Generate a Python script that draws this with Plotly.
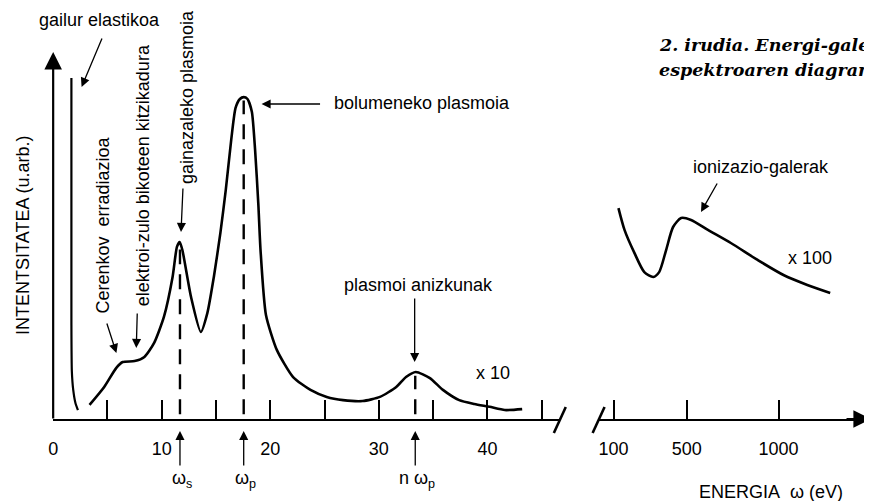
import plotly.graph_objects as go

# ---------------- data ----------------
# low-energy spectrum (x10), energy in eV, intensity in arbitrary units
main_energy = [3.35, 4.7, 5.8, 6.4, 7.5, 8.4, 9.3, 10.2, 11.0, 11.4, 11.65, 11.9, 12.7, 13.6,
               14.2, 14.8, 15.4, 15.9, 16.4, 16.8, 17.2, 17.55, 17.9, 18.3, 18.6, 18.9, 19.1,
               19.6, 20.6, 22.1, 23.7, 25.2, 26.7, 28.5, 30.1, 31.6, 32.5, 33.4, 34.7, 35.9,
               37.4, 38.8, 40.2, 41.6, 43.2]
main_intensity = [4.4, 10.0, 15.9, 17.8, 18.1, 19.4, 23.8, 31.9, 44.4, 53.8, 55.3, 52.8, 38.1, 27.2,
                  33.1, 44.4, 58.1, 71.6, 87.2, 97.2, 100.0, 100.6, 100.0, 96.0, 84.0, 67.0, 52.8,
                  32.5, 21.6, 13.1, 9.1, 6.9, 5.9, 5.6, 6.9, 10.0, 13.1, 14.7, 12.8, 9.1,
                  5.9, 4.7, 3.8, 2.8, 3.1]
# elastic peak
elastic_energy = [1.68, 1.68, 1.72, 1.85, 2.05, 2.28]
elastic_intensity = [106.6, 30.0, 15.0, 9.0, 5.0, 2.8]
# high-energy spectrum (x100): ionisation losses
ion_energy = [127, 160, 214, 268, 317, 349, 387, 425, 469, 523, 615, 740, 886, 1027, 1157, 1282]
ion_intensity = [65.9, 59.1, 51.9, 45.9, 44.4, 45.9, 52.8, 60.0, 62.8, 62.2, 59.1, 55.0, 49.7,
                 45.0, 41.9, 39.4]
# plasmon positions (dashed markers) and their heights
plasmon_energy = [11.68, 17.55, 33.35]
plasmon_height = [53.0, 99.5, 13.5]
plasmon_labels = ["ω<sub>s</sub>", "ω<sub>p</sub>", "n ω<sub>p</sub>"]
# ticks
low_tickvals = [0, 5, 10, 15, 20, 25, 30, 35, 40, 45]
low_ticktext = ["0", "", "10", "", "20", "", "30", "", "40", ""]
high_tickvals = [100, 500, 1000]
high_ticktext = ["100", "500", "1000"]
caption_lines = ["2. irudia. Energi-galeren", "espektroaren diagrama"]

# ---------------- layout helpers ----------------
# the page body has an 8px margin, so the figure is drawn 8px smaller and
# all reference-pixel positions are shifted by that offset
OFF = 8
W, H = 872 - OFF, 501 - OFF
FONT = "Liberation Sans, Arial, sans-serif"
FS = 18


def px(x):
    return (x - OFF) / W


def py(y):
    return 1 - (y - OFF) / H


AXIS_Y = 419.0
X0_PX, X_PER = 48.4, 10.92
Y_PER = 3.2
LEFT_END = 558.0
R_START, R_END = 597.0, 872.0
E100_PX, E_PER = 612.0, 0.1844

fig = go.Figure()

fig.add_trace(go.Scatter(x=main_energy, y=main_intensity, mode="lines",
                         line=dict(color="black", width=2.6, shape="spline", smoothing=0.6),
                         xaxis="x", yaxis="y", hoverinfo="skip"))
fig.add_trace(go.Scatter(x=elastic_energy, y=elastic_intensity, mode="lines",
                         line=dict(color="black", width=2.2, shape="spline", smoothing=0.5),
                         xaxis="x", yaxis="y", hoverinfo="skip"))
fig.add_trace(go.Scatter(x=ion_energy, y=ion_intensity, mode="lines",
                         line=dict(color="black", width=2.6, shape="spline", smoothing=0.7),
                         xaxis="x2", yaxis="y", hoverinfo="skip"))
for e, h in zip(plasmon_energy, plasmon_height):
    fig.add_trace(go.Scatter(x=[e, e], y=[1.5, h], mode="lines",
                             line=dict(color="black", width=2.4, dash="15px,10px"),
                             xaxis="x", yaxis="y", hoverinfo="skip"))

ann = []


def text(t, x, y, angle=0, size=FS, xanchor="center", family=FONT, **kw):
    ann.append(dict(text=t, x=px(x), y=py(y), xref="paper", yref="paper", showarrow=False,
                    textangle=angle, xanchor=xanchor, yanchor="middle",
                    font=dict(family=family, size=size, color="black"), **kw))


def arrow(tipx, tipy, tailx, taily, width=1.3, size=1.4):
    ann.append(dict(text="", x=px(tipx), y=py(tipy), xref="paper", yref="paper",
                    showarrow=True, ax=tailx - tipx, ay=taily - tipy, axref="pixel", ayref="pixel",
                    arrowhead=2, arrowsize=size, arrowwidth=width, arrowcolor="black", standoff=0))


# labels
text("gailur elastikoa", 95, 20)
text("INTENTSITATEA (u.arb.)", 18, 235, angle=-90)
text("Cerenkov\u00a0 erradiazioa", 99, 225, angle=-90)
text("elektroi-zulo bikoteen kitzikadura", 139, 175, angle=-90)
text("gainazaleko plasmoia", 183, 97, angle=-90)
text("bolumeneko plasmoia", 329, 103, xanchor="left")
text("plasmoi anizkunak", 416, 285)
text("x 10", 491, 373)
text("ionizazio-galerak", 760, 167)
text("x 100", 810, 258)
text("ENERGIA\u00a0 \u03c9 (eV)", 770, 492)

# arrows
arrow(77, 87, 98, 37)
arrow(112, 353, 102, 322)
arrow(132, 348, 133, 312)
arrow(177, 232, 179, 187)
arrow(258, 104, 318, 104)
arrow(412, 362, 412, 297)
arrow(700, 212, 717, 182)

# plasmon markers below the axis
for e, lab in zip(plasmon_energy, plasmon_labels):
    xp = X0_PX + e * X_PER
    arrow(xp, 431, xp, 467)
    text(lab, xp + 2, 479)

# axis arrows
arrow(X0_PX, 52, X0_PX, AXIS_Y + 1, width=2.2, size=1.6)
arrow(871, AXIS_Y, 845, AXIS_Y, width=2.2, size=1.6)

# caption (two lines)
for line, yc in zip(caption_lines, [45, 70]):
    text("<b><i>" + line + "</i></b>", 656, yc, size=17.5, xanchor="left",
         family="DejaVu Serif, serif")

# axis break slashes
shapes = [
    dict(type="line", xref="paper", yref="paper", x0=px(552), y0=py(433), x1=px(564), y1=py(407),
         line=dict(color="black", width=2.6)),
    dict(type="line", xref="paper", yref="paper", x0=px(591), y0=py(433), x1=px(603), y1=py(407),
         line=dict(color="black", width=2.6)),
]

axis_common = dict(showgrid=False, zeroline=False, showline=True, linecolor="black", linewidth=2,
                   ticks="inside", ticklen=19, tickwidth=2, tickcolor="black",
                   tickfont=dict(family=FONT, size=FS, color="black"), ticklabelstandoff=12,
                   anchor="y", fixedrange=True)

fig.update_layout(
    width=W, height=H, margin=dict(l=0, r=0, t=0, b=0),
    paper_bgcolor="white", plot_bgcolor="white", showlegend=False,
    xaxis=dict(domain=[px(X0_PX), px(LEFT_END)],
               range=[0, (LEFT_END - X0_PX) / X_PER],
               tickmode="array", tickvals=low_tickvals, ticktext=low_ticktext, **axis_common),
    xaxis2=dict(domain=[px(R_START), px(R_END)],
                range=[100 + (R_START - E100_PX) / E_PER, 100 + (R_END - E100_PX) / E_PER],
                tickmode="array", tickvals=high_tickvals, ticktext=high_ticktext, **axis_common),
    yaxis=dict(domain=[1 - (AXIS_Y - OFF) / H, 1], range=[0, (AXIS_Y - OFF) / Y_PER],
               visible=False, fixedrange=True),
    annotations=ann, shapes=shapes,
)

fig.write_html("out.html")
